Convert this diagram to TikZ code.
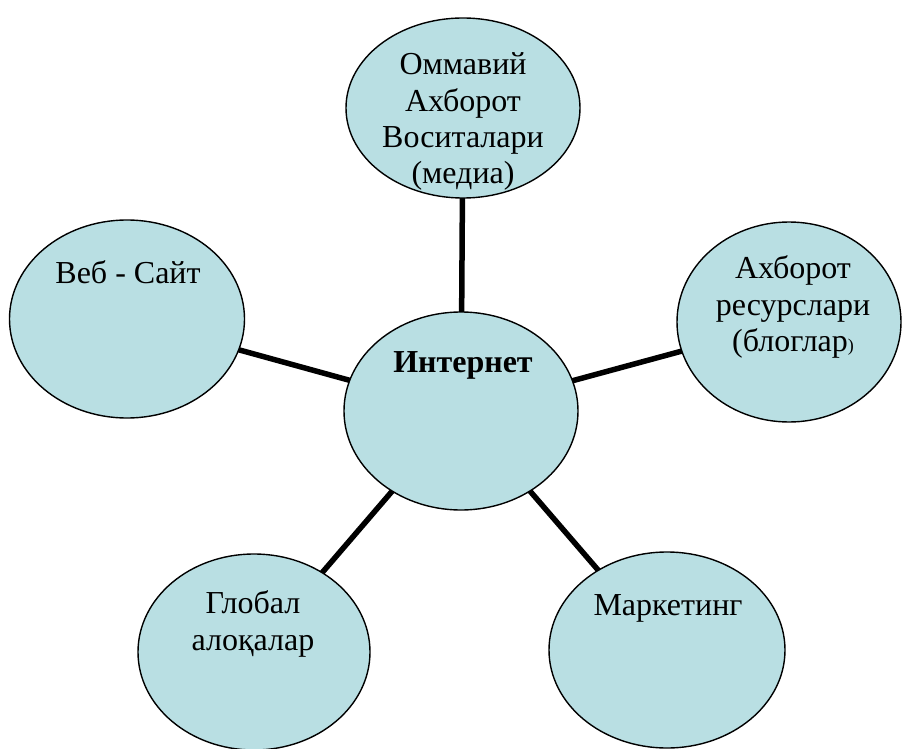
\documentclass[tikz,border=0pt]{standalone}
\usepackage{fontspec}
\setmainfont{Liberation Serif}
\usetikzlibrary{shapes.geometric,backgrounds}
\definecolor{bubblefill}{RGB}{185,223,227}
\tikzset{
  bubble/.style={ellipse, draw=black, line width=1.4pt, fill=bubblefill, inner sep=0pt, outer sep=0pt},
  txt/.style={anchor=base, inner sep=0pt, font=\fontsize{32}{37}\selectfont},
  link/.style={line width=5.5pt, draw=black}
}
\begin{document}
\begin{tikzpicture}[x=1pt,y=-1pt]
\useasboundingbox (0,0) rectangle (902,749);
% ellipses
\node[bubble, minimum width=234pt, minimum height=198pt] (c)  at (461,411) {};
\node[bubble, minimum width=234pt, minimum height=180pt] (t)  at (463,108) {};
\node[bubble, minimum width=224pt, minimum height=200pt] (r)  at (789,322) {};
\node[bubble, minimum width=235pt, minimum height=198pt] (l)  at (127,319) {};
\node[bubble, minimum width=232pt, minimum height=196pt] (bl) at (254,652) {};
\node[bubble, minimum width=236pt, minimum height=196pt] (br) at (667,650) {};
% connectors
\begin{scope}[on background layer]
\draw[link] (c) -- (t);
\draw[link] (c) -- (r);
\draw[link] (c) -- (l);
\draw[link] (c) -- (bl);
\draw[link] (c) -- (br);
\end{scope}
% texts
\node[txt, font=\fontsize{32}{37}\selectfont\bfseries] (ct) at (463,372) {Интернет};
\node[txt] (t1) at (463,75) {Оммавий};
\node[txt] (t2) at (463,112) {Ахборот};
\node[txt] (t3) at (463,148) {Воситалари};
\node[txt] (t4) at (463,183) {(медиа)};
\node[txt] (r1) at (793,278) {Ахборот};
\node[txt] (r2) at (793,315) {ресурслари};
\node[txt] (r3) at (793,351) {(блоглар{\fontsize{18}{20}\selectfont)}};
\node[txt] (l1) at (128,283) {Веб - Сайт};
\node[txt] (b1) at (253,613) {Глобал};
\node[txt] (b2) at (253,650) {алоқалар};
\node[txt] (m1) at (668,615) {Маркетинг};
\end{tikzpicture}
\end{document}
